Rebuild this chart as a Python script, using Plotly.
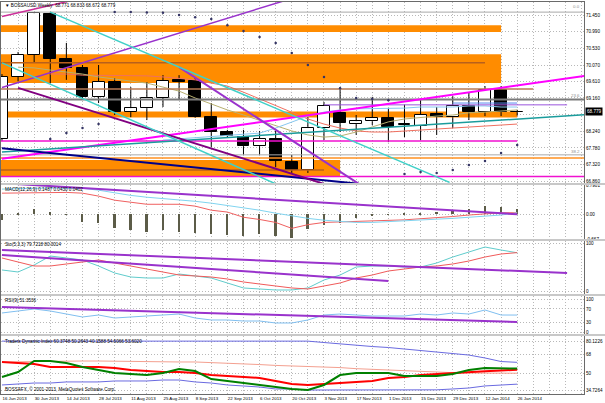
import plotly.graph_objects as go

# ---------------- data ----------------
bar_idx = list(range(33))
grid_idx = list(range(38))
date_labels = ["16 Jun 2013", "30 Jun 2013", "14 Jul 2013", "28 Jul 2013", "11 Aug 2013",
               "25 Aug 2013", "8 Sep 2013", "22 Sep 2013", "6 Oct 2013", "20 Oct 2013",
               "3 Nov 2013", "17 Nov 2013", "1 Dec 2013", "15 Dec 2013", "29 Dec 2013",
               "12 Jan 2014", "26 Jan 2014"]

opens = [68.03, 69.74, 70.35, 71.48, 70.24, 69.99, 69.19, 69.60, 68.77, 68.88,
         69.16, 69.66, 69.63, 68.63, 68.22, 68.08, 67.83, 68.03, 67.39, 67.17,
         68.33, 68.75, 68.44, 68.52, 68.61, 68.41, 68.39, 68.72, 68.63, 68.94,
         68.77, 69.38, 68.771]
highs = [69.82, 70.43, 71.53, 71.53, 70.68, 70.07, 70.07, 69.71, 69.46, 69.60,
         69.79, 69.79, 69.71, 69.02, 68.28, 68.28, 68.25, 68.25, 67.59, 68.63,
         69.05, 69.46, 68.69, 69.19, 68.88, 68.97, 69.10, 68.91, 69.21, 69.30,
         69.49, 69.49, 68.833]
lows = [67.97, 69.62, 70.15, 69.57, 69.66, 69.13, 69.02, 68.69, 68.63, 68.55,
        68.91, 69.10, 68.61, 67.81, 68.08, 67.59, 67.59, 67.25, 67.09, 67.09,
        68.00, 68.22, 68.14, 68.41, 67.94, 68.08, 68.00, 68.14, 68.33, 68.55,
        68.66, 68.66, 68.672]
closes = [69.74, 70.35, 71.50, 70.24, 69.99, 69.19, 69.60, 68.77, 68.88, 69.16,
          69.63, 69.60, 68.63, 68.22, 68.11, 67.83, 68.03, 67.42, 67.17, 68.33,
          68.94, 68.47, 68.52, 68.61, 68.36, 68.44, 68.69, 68.63, 68.94, 68.77,
          69.38, 68.77, 68.779]
sar = [None, None, None, 68.03, 68.19, 68.33, 68.44, 71.53, 71.53, 71.52,
       71.51, 71.45, 71.39, 71.34, 71.17, 71.01, 70.84, 70.68, 70.40, 70.07,
       69.74, 69.43, 69.16, 69.13, 69.10, 67.06, 67.12, 67.09, 67.17, 67.31,
       67.42, 67.64, 67.86]

ma_red_x = list(range(3, 33))
ma_red = [69.82, 69.82, 69.79, 69.79, 69.79, 69.77, 69.77, 69.74, 69.71, 69.66,
          69.57, 69.49, 69.32, 69.13, 68.94, 68.75, 68.58, 68.44, 68.33, 68.25,
          68.22, 68.22, 68.25, 68.28, 68.30, 68.33, 68.36, 68.39, 68.41, 68.44]
ma_khaki_x = list(range(1, 33))
ma_khaki = [70.01, 69.99, 69.93, 69.88, 69.82, 69.74, 69.68, 69.63, 69.57, 69.46,
            69.35, 69.16, 68.99, 68.83, 68.69, 68.55, 68.39, 68.25, 68.14, 68.08,
            68.11, 68.22, 68.36, 68.50, 68.58, 68.63, 68.66, 68.69, 68.75, 68.77,
            68.80, 68.83]
ma_blue_x = list(range(10, 33))
ma_blue = [68.00, 68.03, 68.05, 68.08, 68.11, 68.14, 68.19, 68.33, 68.50, 68.66,
           68.77, 68.83, 68.86, 68.86, 68.88, 68.88, 68.91, 68.91, 68.91, 68.94,
           68.94, 68.91, 68.91]

# drawn objects on the price chart (anchor bar, price)
band_from = [-1, -1, -1, -1]
band_to = [31, 31, 32, 21]
band_lo = [70.98, 69.57, 68.62, 66.98]
band_hi = [71.17, 70.37, 68.79, 67.45]

hline_price = [71.53, 69.12, 67.59, 69.41, 70.13, 67.17, 67.50, 67.97, 66.99, 68.97, 69.02]
hline_from = [-1, -1, -1, -1, -1, -1, -1, -1, -1, 20, 28]
hline_to = [40, 40, 40, 33, 30, 20, 40, 32, 40, 35.1, 32]

trend_x0 = [0, 0, 0, 0, 0, 1, 11, 3, 0]
trend_y0 = [67.48, 71.41, 69.45, 67.67, 67.77, 69.44, 70.01, 71.53, 70.13]
trend_x1 = [37, 6, 20, 37, 22, 20, 22.2, 27.8, 17]
trend_y1 = [69.82, 72.02, 72.18, 68.72, 66.80, 66.79, 66.78, 66.83, 66.79]

# MACD
macd_hist = [-0.16, 0.02, 0.135, 0.05, -0.01, -0.22, -0.24, -0.38, -0.43, -0.49,
             -0.43, -0.49, -0.51, -0.54, -0.57, -0.59, -0.54, -0.59, -0.65, -0.41,
             -0.30, -0.24, -0.11, -0.05, -0.01, 0.01, 0.03, 0.06, 0.11, 0.13,
             0.22, 0.19, 0.149]
macd_red = [0.57, 0.58, 0.59, 0.59, 0.59, 0.57, 0.49, 0.38, 0.32, 0.27,
            0.27, 0.27, 0.22, 0.11, 0.06, -0.08, -0.14, -0.22, -0.38, -0.28,
            -0.22, -0.21, -0.20, -0.19, -0.17, -0.15, -0.12, -0.10, -0.06, -0.02,
            0.02, 0.04, 0.043]
macd_blue = [0.68, 0.68, 0.70, 0.71, 0.71, 0.70, 0.65, 0.57, 0.51, 0.46,
             0.43, 0.38, 0.35, 0.30, 0.24, 0.16, 0.11, 0.03, -0.05, -0.11,
             -0.16, -0.19, -0.22, -0.22, -0.20, -0.19, -0.16, -0.14, -0.11, -0.08,
             -0.05, -0.02, 0.04]
macd_trend_x = [0, 32]
macd_trend_y = [0.84, 0.0]

# Stochastic
sto_main = [43.8, 39.6, 54.2, 72.9, 68.8, 64.6, 52.1, 37.5, 29.2, 27.1,
            27.1, 35.4, 31.3, 27.1, 16.7, 6.3, 4.2, 2.1, 2.1, 6.3,
            22.9, 33.3, 50.0, 52.1, 52.1, 50.0, 50.0, 58.3, 70.8, 81.3,
            91.7, 85.4, 79.72]
sto_sig = [68.8, 60.4, 52.1, 52.1, 56.3, 60.4, 64.6, 58.3, 52.1, 45.8,
           39.6, 33.3, 31.3, 29.2, 25.0, 18.8, 14.6, 10.4, 6.3, 4.2,
           10.4, 16.7, 27.1, 33.3, 41.7, 45.8, 50.0, 52.1, 56.3, 62.5,
           70.8, 77.1, 80.0]
sto_trend1_x = [0, 35.1]
sto_trend1_y = [85.4, 37.5]
sto_trend2_x = [0, 24]
sto_trend2_y = [75.0, 20.8]

# RSI
rsi = [57.6, 63.6, 69.7, 63.6, 54.5, 45.5, 51.5, 42.4, 45.5, 48.5,
       51.5, 54.5, 42.4, 36.4, 36.4, 33.3, 33.3, 27.3, 27.3, 36.4,
       51.5, 54.5, 51.5, 48.5, 48.5, 48.5, 54.5, 51.5, 57.6, 54.5,
       66.7, 51.5, 51.35]
rsi_trend_x = [0, 32]
rsi_trend_y = [75.8, 30.3]

# Traders Dynamic Index
tdi_up = [80.0, 80.0, 80.1, 80.12, 80.1, 80.0, 80.0, 80.0, 80.0, 80.0,
          80.0, 80.0, 80.0, 80.0, 80.0, 80.0, 80.0, 80.0, 80.0, 80.0,
          78.7, 77.3, 76.0, 75.0, 74.1, 72.7, 71.3, 70.4, 69.0, 67.1,
          64.4, 61.1, 60.37]
tdi_mid = [60.7, 61.0, 61.3, 61.6, 61.6, 61.6, 61.6, 61.3, 61.0, 61.0,
           60.9, 60.7, 60.7, 60.2, 59.7, 58.8, 58.3, 57.5, 57.0, 56.8,
           56.0, 55.5, 54.5, 53.8, 53.0, 52.3, 51.6, 51.2, 50.8, 50.5,
           50.4, 50.3, 50.26]
tdi_low = [39.4, 40.3, 41.2, 41.2, 42.2, 42.2, 42.2, 43.1, 43.1, 43.1,
           44.0, 44.0, 42.2, 41.2, 39.4, 38.5, 37.5, 35.7, 35.7, 34.73,
           34.73, 34.73, 34.75, 34.8, 34.8, 34.8, 34.8, 34.9, 35.7, 36.6,
           38.5, 39.4, 40.16]
tdi_red = [60.7, 59.8, 58.8, 56.0, 56.0, 56.0, 56.0, 55.1, 53.3, 52.3,
           51.4, 51.4, 50.5, 48.6, 47.7, 46.8, 45.9, 43.1, 40.3, 39.4,
           40.3, 41.2, 42.2, 43.1, 45.9, 46.8, 48.6, 49.6, 50.5, 51.0,
           52.0, 52.8, 53.60]
tdi_green = [46.8, 51.4, 61.6, 61.6, 59.8, 56.0, 53.3, 50.5, 49.6, 48.6,
             50.5, 54.2, 52.3, 44.9, 43.1, 41.2, 39.4, 37.5, 35.7, 34.73,
             39.4, 48.6, 50.5, 50.5, 50.5, 47.7, 47.7, 47.7, 49.6, 53.3,
             55.1, 55.1, 54.61]

# axis tick labels
price_ticks = [71.450, 70.990, 70.530, 70.070, 69.610, 69.160, 68.700, 68.240, 67.780, 67.320, 66.860]
macd_ticks = [0.7901, 0.0, -0.667]
sto_ticks = [100, 0]
rsi_ticks = [100, 70, 30, 0]
tdi_ticks = [80.1226, 68, 50, 34.7264]

# ---------------- layout helpers ----------------
W, H = 605, 403
FONT = "Liberation Sans, Arial, sans-serif"
GRID = "#b8b8b8"
BORDER = "#6a6a6a"


def py(px):
    return 1 - px / H


panels = [(2, 183), (185, 239), (241, 294), (296, 334), (336, 394)]
yranges = [[66.813, 71.809], [-0.667, 0.7901], [-6.25, 104.2], [-6.06, 109.1], [31.04, 84.75]]
ytv = [price_ticks, macd_ticks, sto_ticks, rsi_ticks, tdi_ticks]
ytt = [
    [("%.3f" % v if abs(v - 68.7) > 1e-6 else "") for v in price_ticks],
    ["0.7901", "0.00", "-0.667"],
    ["100", "0"],
    ["100", "70", "30", "0"],
    ["80.1226", "68", "50", "34.7264"],
]
xrange_ = [-0.06, 36.15]

fig = go.Figure()

# --- price panel: candles ---
up_x, up_y, dn_x, dn_y = [], [], [], []
for i, o, h, l, c in zip(bar_idx, opens, highs, lows, closes):
    up_x += [i, i, None]
    up_y += [max(o, c), h, None]
    dn_x += [i, i, None]
    dn_y += [min(o, c), l, None]
fig.add_trace(go.Scatter(x=up_x + dn_x, y=up_y + dn_y, mode="lines",
                         line=dict(color="black", width=1), xaxis="x", yaxis="y",
                         hoverinfo="skip", showlegend=False))
fig.add_trace(go.Bar(x=bar_idx, y=[c - o for o, c in zip(opens, closes)], base=opens,
                     width=0.74,
                     marker=dict(color=["white" if c >= o else "black" for o, c in zip(opens, closes)],
                                 line=dict(color="black", width=1)),
                     xaxis="x", yaxis="y", hoverinfo="skip", showlegend=False))

# moving averages
for xs, ys, col in [(ma_red_x, ma_red, "#f07060"), (ma_khaki_x, ma_khaki, "#b8b070"),
                    (ma_blue_x, ma_blue, "#87c8f0")]:
    fig.add_trace(go.Scatter(x=xs, y=ys, mode="lines", line=dict(color=col, width=1),
                             xaxis="x", yaxis="y", hoverinfo="skip", showlegend=False))

# horizontal objects
hline_style = [("#a8a8a8", 1), ("#7a7a7a", 2), ("#a8a8a8", 1), ("#b87a55", 1.5), ("#b8601c", 1.5),
               ("#b8601c", 1.5), ("#ff9020", 1.5), ("#f010d0", 1.5), ("#f010d0", 1.5),
               ("#9a55dd", 1), ("#5a8af0", 1)]
for p, a, b, (col, w) in zip(hline_price, hline_from, hline_to, hline_style):
    fig.add_trace(go.Scatter(x=[a, b], y=[p, p], mode="lines", line=dict(color=col, width=w),
                             xaxis="x", yaxis="y", hoverinfo="skip", showlegend=False))

# trend lines
trend_style = [("#ff00ff", 2), ("#cc2f99", 1.5), ("#9932cc", 1.5), ("#1a9c9c", 1.5), ("#000088", 2),
               ("#800080", 2), ("#9932cc", 2), ("#40d0c8", 1.5), ("#40d0c8", 1.5)]
for a, ya, b, yb, (col, w) in zip(trend_x0, trend_y0, trend_x1, trend_y1, trend_style):
    fig.add_trace(go.Scatter(x=[a, b], y=[ya, yb], mode="lines", line=dict(color=col, width=w),
                             xaxis="x", yaxis="y", hoverinfo="skip", showlegend=False))

# parabolic SAR dots
fig.add_trace(go.Scatter(x=bar_idx, y=sar, mode="markers",
                         marker=dict(color="#353565", size=2.5), xaxis="x", yaxis="y",
                         hoverinfo="skip", showlegend=False))

# --- MACD ---
fig.add_trace(go.Bar(x=bar_idx, y=macd_hist, width=0.11, marker=dict(color="#5c5c48", line=dict(width=0)),
                     xaxis="x2", yaxis="y2", hoverinfo="skip", showlegend=False))
fig.add_trace(go.Scatter(x=bar_idx, y=macd_red, mode="lines", line=dict(color="#f06060", width=1),
                         xaxis="x2", yaxis="y2", hoverinfo="skip", showlegend=False))
fig.add_trace(go.Scatter(x=bar_idx, y=macd_blue, mode="lines", line=dict(color="#80d4f0", width=1),
                         xaxis="x2", yaxis="y2", hoverinfo="skip", showlegend=False))
fig.add_trace(go.Scatter(x=macd_trend_x, y=macd_trend_y, mode="lines", line=dict(color="#9932cc", width=2),
                         xaxis="x2", yaxis="y2", hoverinfo="skip", showlegend=False))

# --- Stochastic ---
fig.add_trace(go.Scatter(x=bar_idx, y=sto_main, mode="lines", line=dict(color="#60cccc", width=1),
                         xaxis="x3", yaxis="y3", hoverinfo="skip", showlegend=False))
fig.add_trace(go.Scatter(x=bar_idx, y=sto_sig, mode="lines", line=dict(color="#f05a5a", width=1),
                         xaxis="x3", yaxis="y3", hoverinfo="skip", showlegend=False))
for xs, ys in [(sto_trend1_x, sto_trend1_y), (sto_trend2_x, sto_trend2_y)]:
    fig.add_trace(go.Scatter(x=xs, y=ys, mode="lines", line=dict(color="#9932cc", width=2),
                             xaxis="x3", yaxis="y3", hoverinfo="skip", showlegend=False))

# --- RSI ---
fig.add_trace(go.Scatter(x=bar_idx, y=rsi, mode="lines", line=dict(color="#80bff0", width=1),
                         xaxis="x4", yaxis="y4", hoverinfo="skip", showlegend=False))
fig.add_trace(go.Scatter(x=rsi_trend_x, y=rsi_trend_y, mode="lines", line=dict(color="#9932cc", width=2),
                         xaxis="x4", yaxis="y4", hoverinfo="skip", showlegend=False))

# --- TDI ---
for ys, col, w in [(tdi_up, "#6a6ae0", 1), (tdi_low, "#6a6ae0", 1), (tdi_mid, "#f4a090", 1),
                   (tdi_red, "#ff0000", 2), (tdi_green, "#008000", 2)]:
    fig.add_trace(go.Scatter(x=bar_idx, y=ys, mode="lines", line=dict(color=col, width=w),
                             xaxis="x5", yaxis="y5", hoverinfo="skip", showlegend=False))

# --- axes ---
layout = {}
xticktext = []
for i in grid_idx:
    xticktext.append(date_labels[i // 2] if (i % 2 == 0 and i // 2 < len(date_labels)) else "")
for k in range(5):
    sfx = "" if k == 0 else str(k + 1)
    top, bot = panels[k]
    layout["yaxis" + sfx] = dict(
        domain=[py(bot), py(top)], range=yranges[k], side="right", anchor="x" + sfx,
        tickvals=ytv[k], ticktext=ytt[k], ticks="", tickfont=dict(size=4.6, color="black", family=FONT),
        showgrid=True, gridcolor=GRID, griddash="1px,2px", gridwidth=1, zeroline=False,
        showline=True, mirror=True, linecolor=BORDER, linewidth=1, fixedrange=True,
        automargin=False)
    layout["xaxis" + sfx] = dict(
        domain=[0, 1], range=xrange_, anchor="y" + sfx, tickvals=grid_idx,
        ticktext=xticktext, showticklabels=(k == 4), ticks="", tickangle=0,
        ticklabelposition="outside right",
        tickfont=dict(size=4.4, color="black", family=FONT),
        showgrid=True, gridcolor=GRID, griddash="1px,2px", gridwidth=1, zeroline=False,
        showline=True, mirror=True, linecolor=BORDER, linewidth=1, fixedrange=True,
        automargin=False)

shapes = []
for a, b, lo, hi in zip(band_from, band_to, band_lo, band_hi):
    shapes.append(dict(type="rect", xref="x", yref="y", x0=a, x1=b, y0=lo, y1=hi,
                       fillcolor="#ff8c00", line=dict(width=0), layer="between"))
# gray separators between panels
for k in range(4):
    shapes.append(dict(type="rect", xref="paper", yref="paper", x0=0, x1=1.036,
                       y0=py(panels[k + 1][0]), y1=py(panels[k][1]),
                       fillcolor="#c8c8c8", line=dict(width=0), layer="above"))

small = dict(size=4.6, color="black", family=FONT)
annotations = [
    dict(text="▼ BOSSAUSD,Weekly  68.771 68.833 68.672 68.779", x=0.004, y=py(5.5)),
    dict(text="MACD(12,26,9) 0.1487 0.0430 0.0402", x=0.004, y=py(189)),
    dict(text="Sto(5,3,3) 79.7218 80.0014", x=0.004, y=py(245)),
    dict(text="RSI(9) 51.3536", x=0.004, y=py(300)),
    dict(text="Traders Dynamic Index 60.3748 50.2643 40.1588 54.6066 53.6020", x=0.004, y=py(341)),
    dict(text="BOSSAFX, © 2001-2013, MetaQuotes Software Corp.", x=0.004, y=py(389)),
]
for a in annotations:
    a.update(xref="paper", yref="paper", xanchor="left", yanchor="middle", showarrow=False, font=small)
for txt, ypx in [("0.0", 6.5), ("23.6", 95.5), ("38.2", 151.5)]:
    annotations.append(dict(text=txt, xref="paper", yref="paper", x=0.997, y=py(ypx),
                            xanchor="right", yanchor="middle", showarrow=False,
                            font=dict(size=4.4, color="#909090", family=FONT)))
annotations.append(dict(text="68.779", xref="paper", yref="y", x=1.0, y=closes[-1], xshift=1,
                        xanchor="left", yanchor="middle", showarrow=False, bgcolor="black",
                        borderpad=1, font=dict(size=4.6, color="white", family=FONT)))

fig.update_layout(
    width=W, height=H, margin=dict(l=1, r=21, t=0, b=0, autoexpand=False),
    paper_bgcolor="white", plot_bgcolor="white", showlegend=False,
    barmode="overlay", bargap=0, shapes=shapes, annotations=annotations,
    font=dict(family=FONT, size=5), **layout)

fig.write_html("out.html", config={"displayModeBar": False},
               post_script="document.body.style.margin='0px';")
